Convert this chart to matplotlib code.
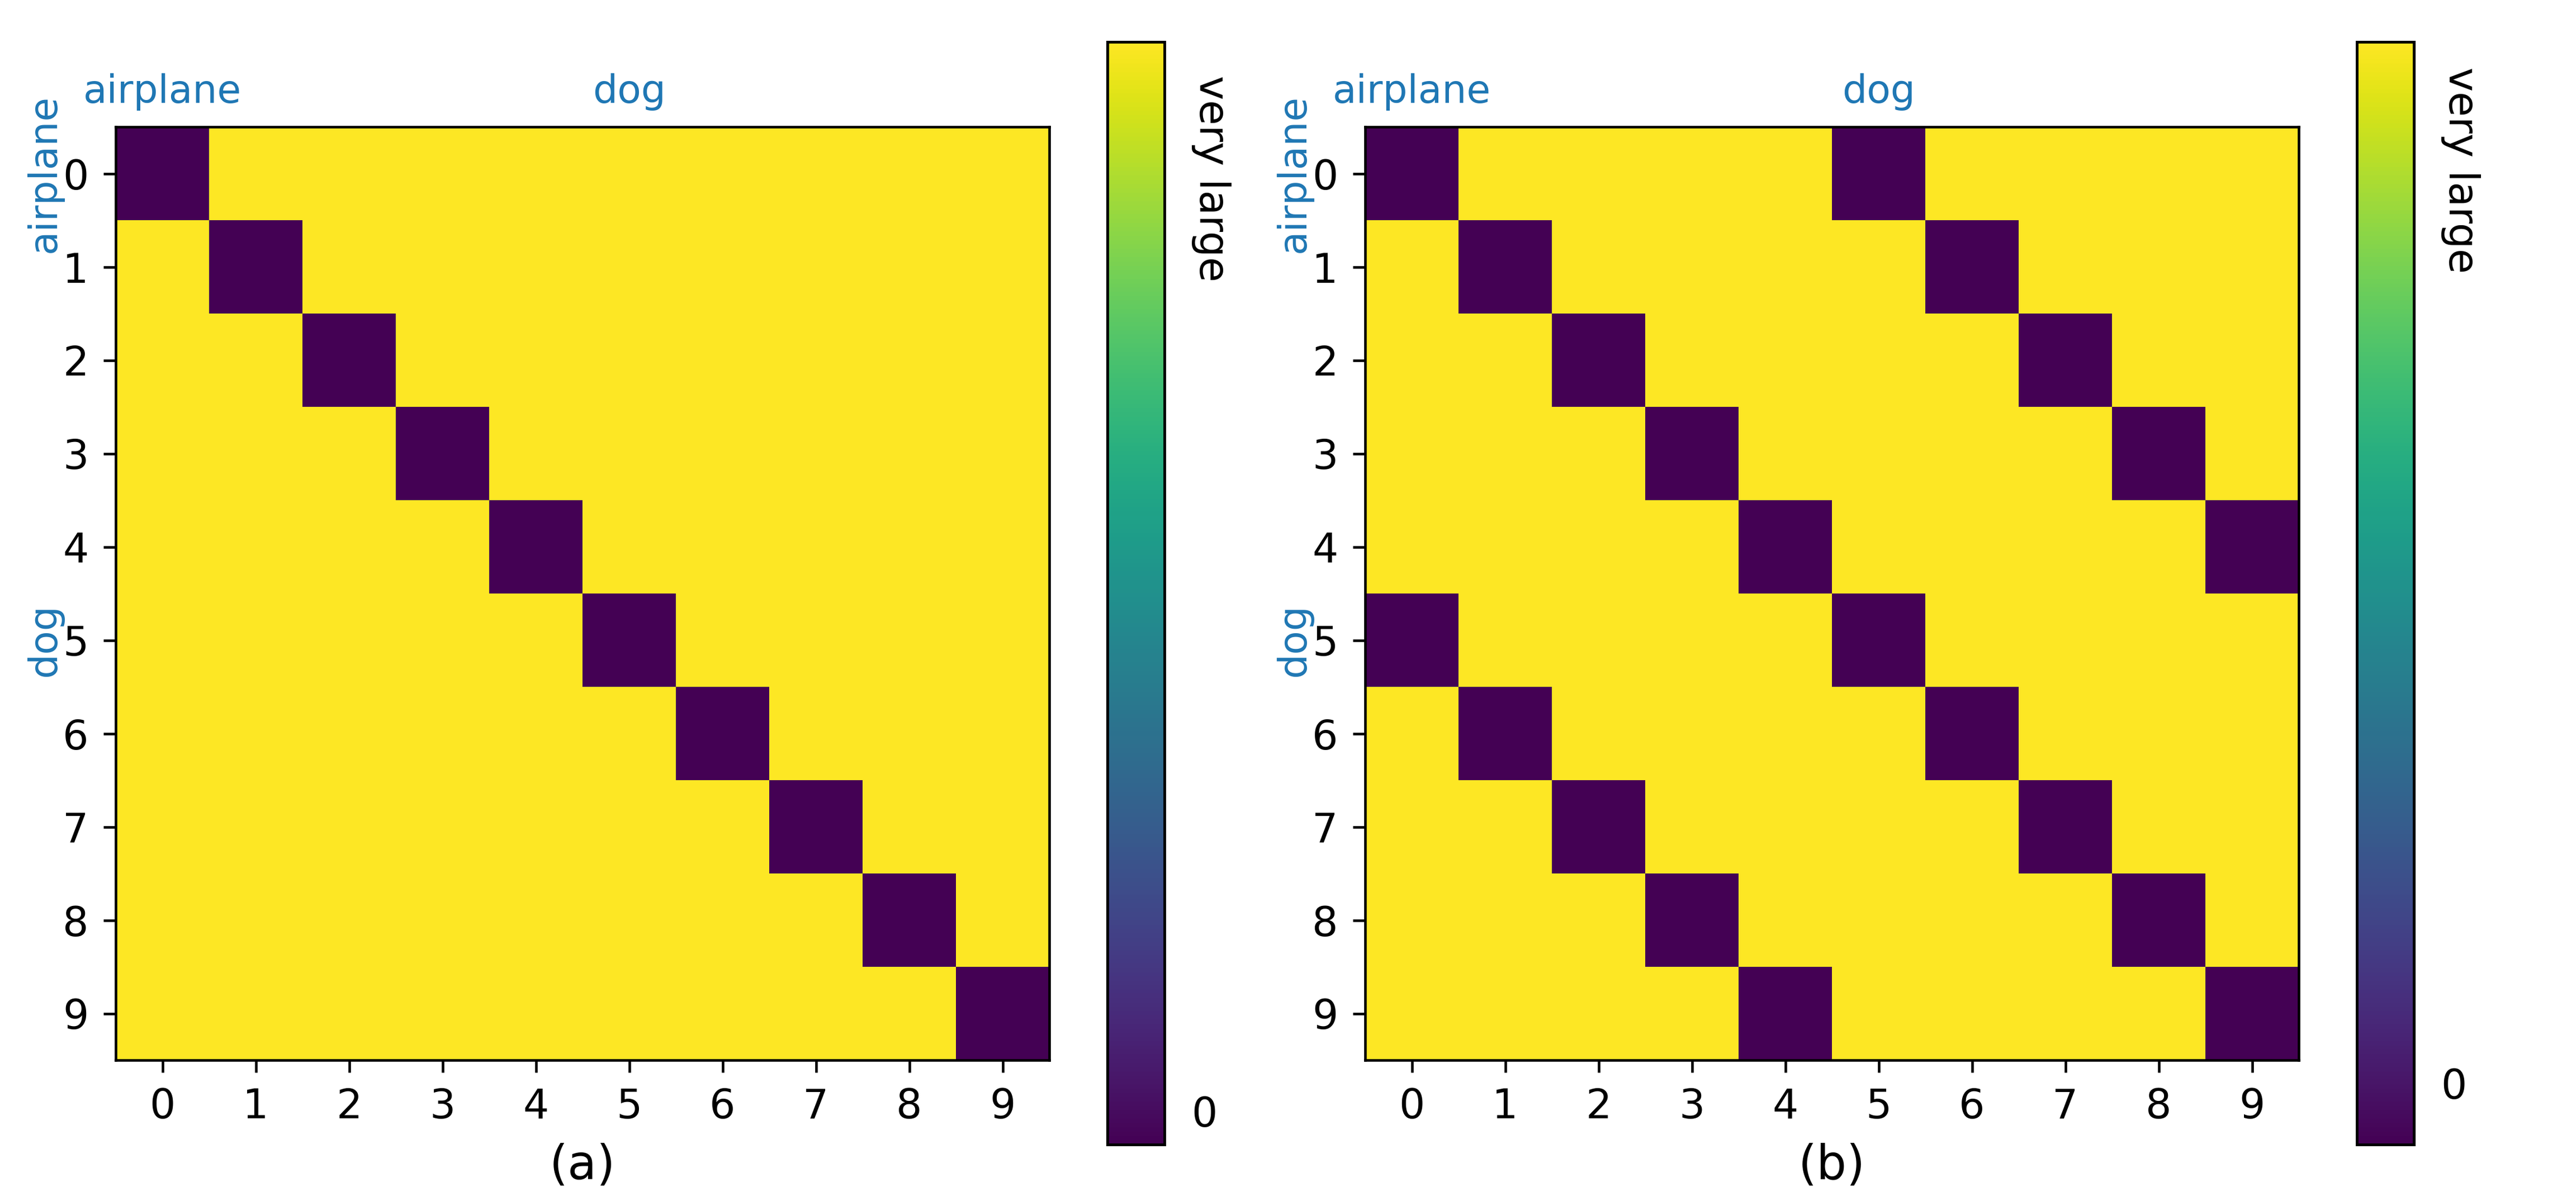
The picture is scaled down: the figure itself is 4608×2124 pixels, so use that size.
import numpy as np
import matplotlib
matplotlib.use('Agg')
import matplotlib.pyplot as plt

# data
tick_labels = ['0', '1', '2', '3', '4', '5', '6', '7', '8', '9']
class_names = ['airplane', 'dog']
class_start = [0, 5]

# columns of the dark (near zero) cells in each row
dark_cols_a = [[0], [1], [2], [3], [4], [5], [6], [7], [8], [9]]
dark_cols_b = [[0, 5], [1, 6], [2, 7], [3, 8], [4, 9],
               [0, 5], [1, 6], [2, 7], [3, 8], [4, 9]]
low_a, high_a = -0.0314, 1.0
low_b, high_b = -0.0591, 1.0
big_tick_a, big_tick_b = 0.872, 0.877
panel_names = ['(a)', '(b)']

BLUE = '#1f77b4'
TICK_FS = 17.5
LABEL_FS = 16.7

def build(dark_cols, low, high):
    m = np.full((len(tick_labels), len(tick_labels)), high)
    for r, cols in enumerate(dark_cols):
        m[r, cols] = low
    return m

W, H = 4608, 2124
fig = plt.figure(figsize=(W / 300, H / 300), dpi=300)

panels = [
    (build(dark_cols_a, low_a, high_a), big_tick_a, 207, 1981),
    (build(dark_cols_b, low_b, high_b), big_tick_b, 2442, 4216),
]

for k, (mat, big_tick, ax_x, cb_x) in enumerate(panels):
    ax = fig.add_axes([ax_x / W, 1 - 1897 / H, 1670 / W, 1670 / H])
    im = ax.imshow(mat, cmap='viridis', aspect='auto', interpolation='nearest')
    ax.set_xticks(range(len(tick_labels)))
    ax.set_yticks(range(len(tick_labels)))
    ax.set_xticklabels(tick_labels)
    ax.set_yticklabels(tick_labels)
    ax.tick_params(labelsize=TICK_FS, length=5.3, width=1.1, pad=6.3)
    for s in ax.spines.values():
        s.set_linewidth(1.1)

    # class names along top and left
    for name, pos in zip(class_names, class_start):
        ax.annotate(name, xy=(pos, 1), xycoords=('data', 'axes fraction'),
                    xytext=(0, 7), textcoords='offset points',
                    ha='center', va='bottom', color=BLUE, fontsize=LABEL_FS)
        ax.annotate(name, xy=(0, pos), xycoords=('axes fraction', 'data'),
                    xytext=(-22.6, 0), textcoords='offset points',
                    ha='right', va='center', rotation=90,
                    color=BLUE, fontsize=LABEL_FS)

    ax.text(0.5, -0.1275, panel_names[k], transform=ax.transAxes,
            ha='center', va='baseline', fontsize=20.4)

    cax = fig.add_axes([cb_x / W, 1 - 2048 / H, 102 / W, 1973 / H])
    cbar = fig.colorbar(im, cax=cax, ticks=[0, big_tick])
    cbar.outline.set_linewidth(1.2)
    cax.set_yticklabels(['0', 'very large'])
    cax.tick_params(length=0, pad=11.5, labelsize=TICK_FS)
    lbl = cax.get_yticklabels()[1]
    lbl.set_rotation(270)
    lbl.set_va('center')

fig.savefig('out.png', dpi=300)
